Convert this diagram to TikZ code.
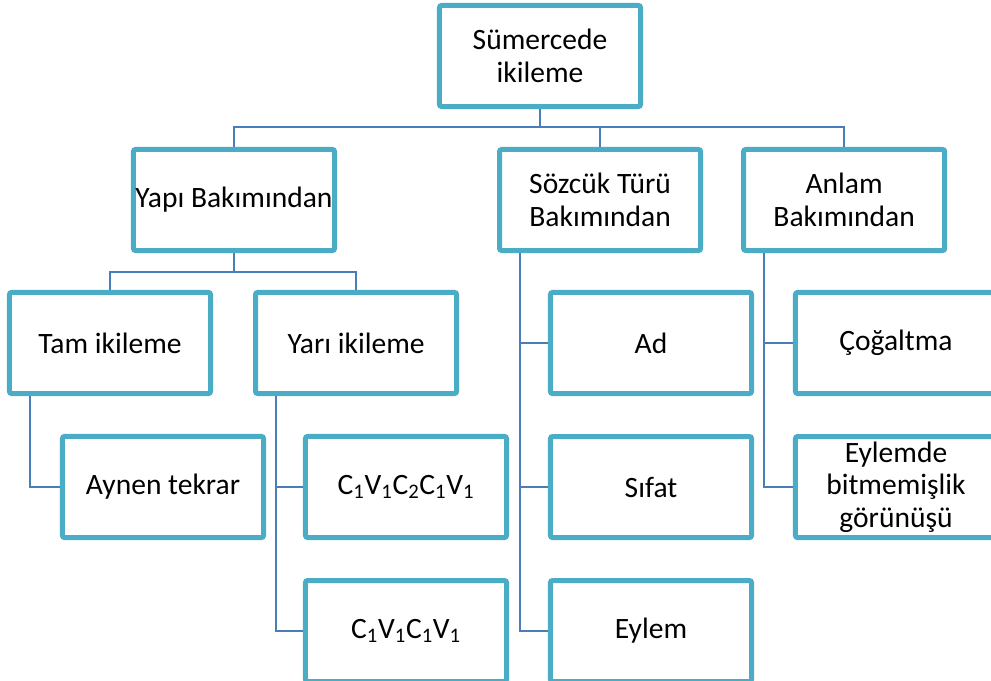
\documentclass[tikz,border=0pt]{standalone}
\usepackage{fontspec}
\setmainfont{Carlito}
\usepackage{tikz}
\usetikzlibrary{positioning}
\definecolor{ikiTeal}{HTML}{4BACC6}
\definecolor{ikiLine}{HTML}{4A7EBB}
\tikzset{
  kutu/.style={draw=ikiTeal, line width=0.125cm, rounded corners=1.5pt, fill=white, align=center, inner sep=0pt, minimum width=5.025cm, minimum height=2.525cm, font=\fontsize{21}{23}\selectfont},
  baglanti/.style={draw=ikiLine, line width=1.4pt},
}

\begin{document}
\begin{tikzpicture}[x=0.025cm, y=-0.025cm]
\useasboundingbox (0,0) rectangle (991,681);
\clip (0,0) rectangle (991,681);

\node[kutu] (kok) at (540,56) {Sümercede\\ikileme};

\node[kutu] (yapi) at (234,200) {Yapı Bakımından};
\node[kutu, right=4cm of yapi] (sozcuk) {Sözcük Türü\\Bakımından};
\node[kutu, right=0.95cm of sozcuk] (anlam) {Anlam\\Bakımından};

\node[kutu] (tam) at (110,343) {Tam ikileme};
\node[kutu, right=1cm of tam] (yari) {Yarı ikileme};
\node[kutu] (aynen) at (163,487) {Aynen tekrar};
\node[kutu] (cvccv) at (406,487) {C\textsubscript{1}V\textsubscript{1}C\textsubscript{2}C\textsubscript{1}V\textsubscript{1}};
\node[kutu, below=0.95cm of cvccv] (cvcv) {C\textsubscript{1}V\textsubscript{1}C\textsubscript{1}V\textsubscript{1}};

\node[kutu] (ad) at (651,343) {Ad};
\node[kutu, below=0.95cm of ad] (sifat) {Sıfat};
\node[kutu, below=0.95cm of sifat] (eylem) {Eylem};

\node[kutu] (cog) at (896,343) {Çoğaltma};
\node[kutu, below=0.95cm of cog] (bitme) {Eylemde\\bitmemişlik\\görünüşü};

% ust seviye
\draw[baglanti] (kok.south) -- ++(0,18) coordinate (bus1) -| (yapi.north);
\draw[baglanti] (bus1) -| (sozcuk.north);
\draw[baglanti] (bus1) -| (anlam.north);
\draw[baglanti] (yapi.south) -- ++(0,19) coordinate (bus2) -| (tam.north);
\draw[baglanti] (bus2) -| (yari.north);

% alt dallar
\draw[baglanti] ([xshift=5.8mm]tam.south west) |- (aynen.west);
\draw[baglanti] ([xshift=5.8mm]yari.south west) |- (cvccv.west);
\draw[baglanti] ([xshift=5.8mm]yari.south west) |- (cvcv.west);
\draw[baglanti] ([xshift=5.8mm]sozcuk.south west) |- (ad.west);
\draw[baglanti] ([xshift=5.8mm]sozcuk.south west) |- (sifat.west);
\draw[baglanti] ([xshift=5.8mm]sozcuk.south west) |- (eylem.west);
\draw[baglanti] ([xshift=5.8mm]anlam.south west) |- (cog.west);
\draw[baglanti] ([xshift=5.8mm]anlam.south west) |- (bitme.west);
\end{tikzpicture}
\end{document}
